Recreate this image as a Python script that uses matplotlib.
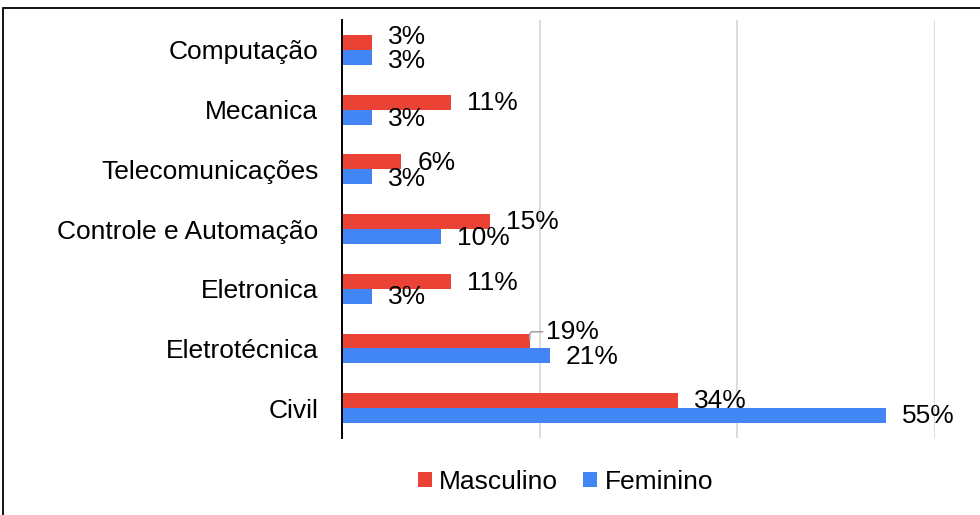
import matplotlib.pyplot as plt
from matplotlib.patches import Rectangle
import numpy as np

# data, top to bottom as in the chart
cursos = ['Computação', 'Mecanica', 'Telecomunicações', 'Controle e Automação',
          'Eletronica', 'Eletrotécnica', 'Civil']
masculino = [3, 11, 6, 15, 11, 19, 34]
feminino = [3, 3, 3, 10, 3, 21, 55]

# label nudges (pixels, down is positive) to mimic the original overlaps
masc_dy = [-5.5, 1, 1.5, 0, 2, -9, 0]
fem_dy = [3.5, 2, 2.5, 1.5, 1, 1, 0]

RED = '#EA4335'
BLUE = '#4285F4'

plt.rcParams['font.family'] = ['Liberation Sans', 'DejaVu Sans']
FS = 19

fig = plt.figure(figsize=(9.8, 5.15), dpi=100)
W, H = 980, 515
ax = fig.add_axes([342 / W, 1 - 438 / H, (935 - 342) / W, (438 - 20) / H])

n = len(cursos)
y = np.arange(n)[::-1]
h = 0.25
ax.barh(y + h / 2, masculino, height=h, color=RED, label='Masculino', zorder=3)
ax.barh(y - h / 2, feminino, height=h, color=BLUE, label='Feminino', zorder=3)

for i in range(n):
    ax.annotate(f'{masculino[i]}%', xy=(masculino[i], y[i] + h / 2),
                xytext=(16, -masc_dy[i]), textcoords='offset pixels',
                ha='left', va='center', fontsize=FS)
    ax.annotate(f'{feminino[i]}%', xy=(feminino[i], y[i] - h / 2),
                xytext=(16, -fem_dy[i]), textcoords='offset pixels',
                ha='left', va='center', fontsize=FS)

# small leader line on the Eletrotécnica label
i = cursos.index('Eletrotécnica')
ax.annotate('', xy=(masculino[i], y[i] + h / 2 + 0.02),
            xytext=(13, 8), textcoords='offset pixels',
            arrowprops=dict(arrowstyle='-', color='#A6A6A6', lw=1.2,
                            shrinkA=0, shrinkB=0,
                            connectionstyle='angle,angleA=0,angleB=90,rad=3'))

ax.set_xlim(0, 60)
ax.set_ylim(-0.5, n - 0.5)
ax.set_xticks([20, 40, 60])
ax.set_xticklabels([])
ax.tick_params(axis='x', length=0)
ax.grid(axis='x', color='#D9D9D9', lw=1.3, zorder=0)
ax.set_yticks(y)
ax.set_yticklabels(cursos, fontsize=FS)
ax.tick_params(axis='y', length=0, pad=17)
for s in ['top', 'right', 'bottom']:
    ax.spines[s].set_visible(False)
ax.spines['left'].set_linewidth(1.4)
ax.spines['left'].set_zorder(4)

fig.legend(loc='center', bbox_to_anchor=(565.5 / W, 1 - 482 / H), ncol=2,
           frameon=False, fontsize=FS, handlelength=0.53, handleheight=0.53,
           handletextpad=0.27, columnspacing=0.95, borderaxespad=0)

# outer frame (cut off at right and bottom like the original)
fig.add_artist(Rectangle((3 / W, -0.1), 1.5, 1 - 8 / H + 0.1,
                         transform=fig.transFigure, fill=False,
                         ec='black', lw=1.3))

fig.savefig('out.png', dpi=100)
